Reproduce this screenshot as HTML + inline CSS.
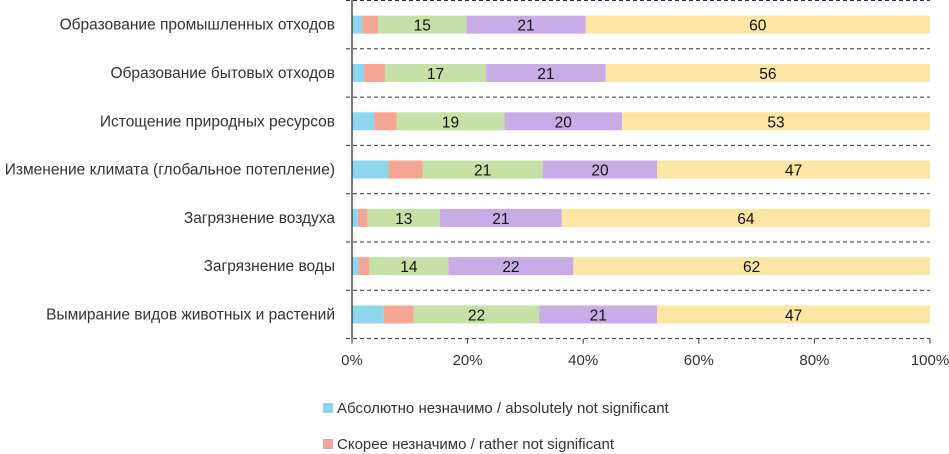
<!DOCTYPE html>
<html><head><meta charset="utf-8"><style>
body{margin:0;background:#fff;width:949px;height:454px;overflow:hidden}
svg{display:block;font-family:"Liberation Sans","DejaVu Sans",sans-serif}
</style></head><body>
<svg id="c" width="949" height="454"></svg>
<script>
const categories=["Образование промышленных отходов","Образование бытовых отходов","Истощение природных ресурсов","Изменение климата (глобальное потепление)","Загрязнение воздуха","Загрязнение воды","Вымирание видов животных и растений"];
const absNot=[1.8,2.1,3.9,6.3,1.0,1.1,5.5];
const ratherNot=[2.7,3.6,3.8,5.9,1.7,1.9,5.2];
const mid=[15.3,17.5,18.7,20.8,12.5,13.7,21.7];
const ratherSig=[20.6,20.7,20.3,19.8,21.1,21.6,20.4];
const verySig=[59.6,56.1,53.3,47.2,63.7,61.7,47.2];
const midLabels=["15","17","19","21","13","14","22"];
const ratherSigLabels=["21","21","20","20","21","22","21"];
const verySigLabels=["60","56","53","47","64","62","47"];
const ticks=[0,20,40,60,80,100];
const series=[absNot,ratherNot,mid,ratherSig,verySig];
const labels=[null,null,midLabels,ratherSigLabels,verySigLabels];
const colors=["#8fd6ef","#f5a593","#c6e1a6","#c9abe6","#fde6a3"];
const names=["abs-not-significant","rather-not-significant","neutral","rather-significant","very-significant"];
const NS="http://www.w3.org/2000/svg";
const svg=document.getElementById('c');
const x0=352,x1=930,plotTop=0.5,pitch=48.3,bh=18;
const xs=v=>x0+(x1-x0)*v/100;
const yc=i=>plotTop+pitch*(i+0.5);
function mk(t,a,p){const e=document.createElementNS(NS,t);for(const k in a)e.setAttribute(k,a[k]);(p||svg).appendChild(e);return e;}
for(let i=0;i<=categories.length;i++){
  const l=mk('line',{x1:x0-6,x2:x1,y1:plotTop+pitch*i,y2:plotTop+pitch*i,stroke:'#333','stroke-dasharray':'4,3','stroke-width':1});
  
  
}
categories.forEach((c,i)=>{
  let acc=0;
  series.forEach((s,k)=>{
    const r=mk('rect',{x:xs(acc),y:yc(i)-bh/2,width:xs(acc+s[i])-xs(acc),height:bh,fill:colors[k]});
    
    
    if(labels[k]){
      const t=mk('text',{x:(xs(acc)+xs(acc+s[i]))/2,y:yc(i)+6,'text-anchor':'middle','font-size':15.5,fill:'#111'});
      t.textContent=labels[k][i];
      
      
    }
    acc+=s[i];
  });
  const t=mk('text',{x:335,y:yc(i)+5,'text-anchor':'end','font-size':15.5,fill:'#333'});
  t.textContent=c;
  
  
});
const ax=mk('line',{x1:x0,x2:x0,y1:0,y2:plotTop+pitch*categories.length,stroke:'#333','stroke-width':1.3});


ticks.forEach(v=>{
  const tk=mk('line',{x1:xs(v),x2:xs(v),y1:plotTop+pitch*7,y2:plotTop+pitch*7+5,stroke:'#333'});
  
  
  const t=mk('text',{x:xs(v),y:365,'text-anchor':'middle','font-size':15,fill:'#333'});
  t.textContent=v+'%';
  
  
});
const leg=[["Абсолютно незначимо / absolutely not significant",408],["Скорее незначимо / rather not significant",444]];
leg.forEach((L,k)=>{
  const r=mk('rect',{x:323,y:L[1]-5,width:10,height:10,fill:colors[k]});
  
  
  const t=mk('text',{x:337,y:L[1]+5,'font-size':15,fill:'#333'});
  t.textContent=L[0];
  
  
});
</script>
</body></html>
